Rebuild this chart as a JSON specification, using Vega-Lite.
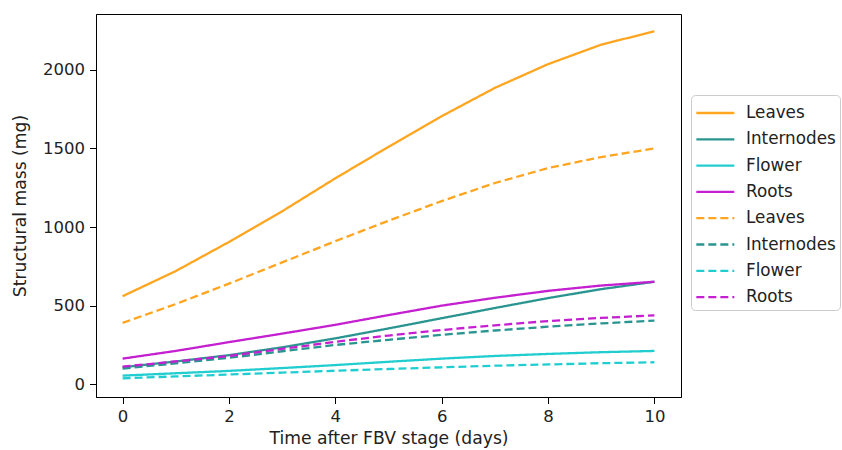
{
  "$schema": "https://vega.github.io/schema/vega-lite/v6.json",
  "width": 585,
  "height": 383,
  "autosize": {"type": "none"},
  "padding": {"left": 96, "top": 14, "right": 161, "bottom": 53},
  "background": "white",
  "config": {
    "font": "DejaVu Sans",
    "view": {"stroke": "black", "strokeWidth": 1},
    "axis": {
      "grid": false,
      "labelFont": "DejaVu Sans",
      "titleFont": "DejaVu Sans",
      "labelFontSize": 16.5,
      "titleFontSize": 17.2,
      "titleFontWeight": "normal",
      "labelColor": "#222",
      "titleColor": "#222",
      "domainColor": "black",
      "tickColor": "black",
      "tickSize": 6.5,
      "labelPadding": 5
    },
    "legend": {
      "labelFont": "DejaVu Sans",
      "labelFontSize": 16.8,
      "labelColor": "#222"
    }
  },
  "data": {
    "values": [
      {"day": 0, "key": "1Leaves", "mass": 560}, {"day": 1, "key": "1Leaves", "mass": 720}, {"day": 2, "key": "1Leaves", "mass": 905}, {"day": 3, "key": "1Leaves", "mass": 1100}, {"day": 4, "key": "1Leaves", "mass": 1310}, {"day": 5, "key": "1Leaves", "mass": 1510}, {"day": 6, "key": "1Leaves", "mass": 1705}, {"day": 7, "key": "1Leaves", "mass": 1885}, {"day": 8, "key": "1Leaves", "mass": 2036}, {"day": 9, "key": "1Leaves", "mass": 2160}, {"day": 10, "key": "1Leaves", "mass": 2245},
      {"day": 0, "key": "2Internodes", "mass": 108}, {"day": 1, "key": "2Internodes", "mass": 145}, {"day": 2, "key": "2Internodes", "mass": 185}, {"day": 3, "key": "2Internodes", "mass": 235}, {"day": 4, "key": "2Internodes", "mass": 292}, {"day": 5, "key": "2Internodes", "mass": 355}, {"day": 6, "key": "2Internodes", "mass": 420}, {"day": 7, "key": "2Internodes", "mass": 485}, {"day": 8, "key": "2Internodes", "mass": 548}, {"day": 9, "key": "2Internodes", "mass": 605}, {"day": 10, "key": "2Internodes", "mass": 652},
      {"day": 0, "key": "3Flower", "mass": 55}, {"day": 1, "key": "3Flower", "mass": 70}, {"day": 2, "key": "3Flower", "mass": 85}, {"day": 3, "key": "3Flower", "mass": 103}, {"day": 4, "key": "3Flower", "mass": 122}, {"day": 5, "key": "3Flower", "mass": 143}, {"day": 6, "key": "3Flower", "mass": 163}, {"day": 7, "key": "3Flower", "mass": 180}, {"day": 8, "key": "3Flower", "mass": 193}, {"day": 9, "key": "3Flower", "mass": 204}, {"day": 10, "key": "3Flower", "mass": 212},
      {"day": 0, "key": "4Roots", "mass": 163}, {"day": 1, "key": "4Roots", "mass": 212}, {"day": 2, "key": "4Roots", "mass": 268}, {"day": 3, "key": "4Roots", "mass": 322}, {"day": 4, "key": "4Roots", "mass": 378}, {"day": 5, "key": "4Roots", "mass": 440}, {"day": 6, "key": "4Roots", "mass": 500}, {"day": 7, "key": "4Roots", "mass": 550}, {"day": 8, "key": "4Roots", "mass": 594}, {"day": 9, "key": "4Roots", "mass": 628}, {"day": 10, "key": "4Roots", "mass": 652},
      {"day": 0, "key": "5Leaves", "mass": 390}, {"day": 1, "key": "5Leaves", "mass": 510}, {"day": 2, "key": "5Leaves", "mass": 640}, {"day": 3, "key": "5Leaves", "mass": 775}, {"day": 4, "key": "5Leaves", "mass": 910}, {"day": 5, "key": "5Leaves", "mass": 1040}, {"day": 6, "key": "5Leaves", "mass": 1165}, {"day": 7, "key": "5Leaves", "mass": 1280}, {"day": 8, "key": "5Leaves", "mass": 1375}, {"day": 9, "key": "5Leaves", "mass": 1445}, {"day": 10, "key": "5Leaves", "mass": 1500},
      {"day": 0, "key": "6Internodes", "mass": 100}, {"day": 1, "key": "6Internodes", "mass": 133}, {"day": 2, "key": "6Internodes", "mass": 168}, {"day": 3, "key": "6Internodes", "mass": 210}, {"day": 4, "key": "6Internodes", "mass": 250}, {"day": 5, "key": "6Internodes", "mass": 283}, {"day": 6, "key": "6Internodes", "mass": 314}, {"day": 7, "key": "6Internodes", "mass": 342}, {"day": 8, "key": "6Internodes", "mass": 366}, {"day": 9, "key": "6Internodes", "mass": 387}, {"day": 10, "key": "6Internodes", "mass": 405},
      {"day": 0, "key": "7Flower", "mass": 38}, {"day": 1, "key": "7Flower", "mass": 50}, {"day": 2, "key": "7Flower", "mass": 62}, {"day": 3, "key": "7Flower", "mass": 74}, {"day": 4, "key": "7Flower", "mass": 86}, {"day": 5, "key": "7Flower", "mass": 97}, {"day": 6, "key": "7Flower", "mass": 108}, {"day": 7, "key": "7Flower", "mass": 118}, {"day": 8, "key": "7Flower", "mass": 126}, {"day": 9, "key": "7Flower", "mass": 134}, {"day": 10, "key": "7Flower", "mass": 140},
      {"day": 0, "key": "8Roots", "mass": 112}, {"day": 1, "key": "8Roots", "mass": 145}, {"day": 2, "key": "8Roots", "mass": 180}, {"day": 3, "key": "8Roots", "mass": 225}, {"day": 4, "key": "8Roots", "mass": 270}, {"day": 5, "key": "8Roots", "mass": 310}, {"day": 6, "key": "8Roots", "mass": 345}, {"day": 7, "key": "8Roots", "mass": 375}, {"day": 8, "key": "8Roots", "mass": 402}, {"day": 9, "key": "8Roots", "mass": 422}, {"day": 10, "key": "8Roots", "mass": 438}
    ]
  },
  "mark": {"type": "line", "strokeWidth": 2.3, "clip": true},
  "encoding": {
    "x": {
      "field": "day", "type": "quantitative",
      "scale": {"domain": [-0.5, 10.5], "nice": false, "zero": false},
      "axis": {"values": [0, 2, 4, 6, 8, 10], "format": "d", "title": "Time after FBV stage (days)", "titlePadding": 4, "labelPadding": 5}
    },
    "y": {
      "field": "mass", "type": "quantitative",
      "scale": {"domain": [-81, 2355], "nice": false, "zero": false},
      "axis": {"values": [0, 500, 1000, 1500, 2000], "format": "d", "title": "Structural mass (mg)", "titlePadding": 13}
    },
    "color": {
      "field": "key", "type": "nominal",
      "scale": {
        "domain": ["1Leaves", "2Internodes", "3Flower", "4Roots", "5Leaves", "6Internodes", "7Flower", "8Roots"],
        "range": ["#ffa51f", "#2a9590", "#22cdd0", "#c41fd0", "#ffa51f", "#2a9590", "#22cdd0", "#c41fd0"]
      },
      "legend": {
        "title": null,
        "orient": "none",
        "legendX": 595,
        "legendY": 81,
        "symbolType": "M-1,0L2,0",
        "symbolSize": 641,
        "symbolStrokeWidth": 2.3,
        "labelExpr": "substring(datum.label, 1)",
        "strokeColor": "#cccccc",
        "fillColor": "white",
        "cornerRadius": 4,
        "padding": 4,
        "rowPadding": 3.3,
        "labelOffset": 23
      }
    },
    "strokeDash": {
      "field": "key", "type": "nominal",
      "scale": {
        "domain": ["1Leaves", "2Internodes", "3Flower", "4Roots", "5Leaves", "6Internodes", "7Flower", "8Roots"],
        "range": [[1, 0], [1, 0], [1, 0], [1, 0], [8, 4], [8, 4], [8, 4], [8, 4]]
      }
    }
  }
}
